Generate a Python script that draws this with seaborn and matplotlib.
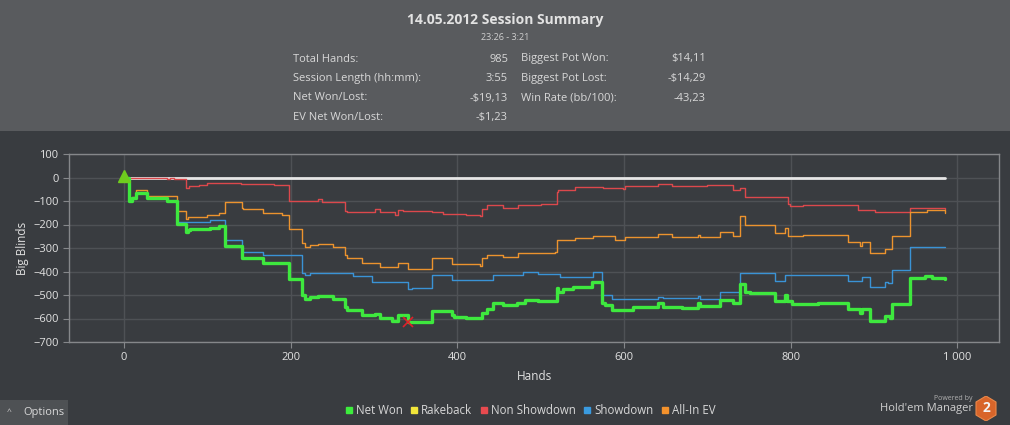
import matplotlib
matplotlib.use("Agg")
import matplotlib.pyplot as plt
import matplotlib.ticker as mticker
from matplotlib.lines import Line2D
from matplotlib.patches import Rectangle, Polygon
import seaborn as sns

# --- data (hands / big blinds) ---
net_won_hands = [0, 6, 9, 14, 27, 51, 63, 74, 77, 79, 103, 114, 121, 141, 167, 198, 213, 217, 223, 233,
                 251, 265, 268, 285, 301, 307, 321, 329, 341, 369, 393, 396, 410, 429, 436, 443, 455, 471,
                 481, 497, 519, 521, 527, 539, 561, 573, 577, 585, 611, 641, 647, 670, 689, 691, 715, 731,
                 739, 745, 751, 781, 793, 795, 801, 833, 869, 883, 886, 895, 913, 919, 922, 943, 961, 970, 985]
net_won_bb = [0, -100, -89, -68, -86, -98, -198, -233, -225, -221, -216, -206, -291, -342, -362, -430, -500,
              -518, -510, -503, -518, -552, -563, -585, -580, -599, -609, -585, -615, -567, -585, -592, -597,
              -575, -558, -533, -543, -536, -521, -526, -472, -486, -476, -465, -443, -536, -543, -563, -550,
              -536, -550, -555, -536, -547, -521, -536, -453, -486, -490, -526, -500, -526, -538, -533, -560,
              -575, -560, -611, -588, -599, -540, -426, -419, -426, -430]

non_sd_hands = [0, 20, 51, 55, 60, 74, 78, 90, 100, 140, 180, 198, 233, 238, 265, 268, 301, 307, 325, 329,
                335, 370, 383, 410, 427, 429, 436, 455, 473, 500, 519, 521, 541, 575, 599, 601, 641, 657,
                699, 731, 739, 745, 797, 799, 815, 881, 901, 943, 963, 985]
non_sd_bb = [0, -3, -8, -4, -6, -43, -36, -30, -25, -27, -32, -99, -93, -104, -143, -148, -135, -148, -161,
             -138, -143, -148, -155, -160, -163, -136, -117, -131, -117, -112, -60, -53, -42, -45, -48, -37,
             -28, -37, -33, -53, -46, -84, -114, -123, -117, -138, -145, -131, -128, -135]

sd_hands = [0, 6, 9, 14, 27, 51, 63, 103, 121, 141, 167, 213, 217, 223, 275, 297, 341, 345, 369, 393, 443,
            479, 497, 523, 563, 573, 585, 641, 647, 689, 691, 715, 739, 781, 793, 869, 886, 895, 913, 917,
            922, 943, 985]
sd_bb = [0, -100, -89, -68, -86, -98, -188, -181, -266, -318, -330, -405, -415, -408, -420, -446, -474, -469,
         -415, -436, -415, -401, -411, -425, -401, -500, -517, -510, -514, -505, -518, -486, -408, -441, -414,
         -440, -423, -465, -443, -450, -394, -294, -294]

allin_ev_hands = [0, 6, 9, 14, 27, 63, 74, 77, 100, 114, 121, 141, 143, 167, 190, 198, 213, 217, 223, 233,
                  251, 265, 268, 285, 307, 329, 341, 369, 393, 427, 429, 436, 455, 473, 517, 519, 541, 563,
                  589, 601, 641, 657, 689, 691, 715, 731, 739, 745, 781, 793, 797, 815, 869, 883, 886, 895,
                  913, 922, 943, 963, 985]
allin_ev_bb = [0, -95, -84, -53, -77, -141, -177, -167, -160, -150, -103, -128, -133, -150, -160, -221, -280,
               -297, -287, -282, -295, -330, -344, -362, -382, -362, -390, -344, -366, -375, -344, -330, -340,
               -320, -315, -266, -258, -248, -266, -255, -241, -255, -245, -254, -234, -251, -164, -202, -238,
               -215, -248, -244, -273, -291, -273, -323, -303, -251, -145, -140, -150]

rakeback_hands = [0, 985]
rakeback_bb = [0, 0]

legend_names = ["Net Won", "Rakeback", "Non Showdown", "Showdown", "All-In EV"]
legend_colors = ["#3ded3d", "#f2e63a", "#e84a4f", "#3a9be0", "#f4922c"]

header_rows = [("Total Hands:", "985", "Biggest Pot Won:", "$14,11"),
               ("Session Length (hh:mm):", "3:55", "Biggest Pot Lost:", "-$14,29"),
               ("Net Won/Lost:", "-$19,13", "Win Rate (bb/100):", "-43,23"),
               ("EV Net Won/Lost:", "-$1,23", "", "")]

bg = "#393c40"
header_bg = "#595b5e"
grid_c = "#4e5155"
text_c = "#e2e2e2"

sns.set_style("dark", {"axes.facecolor": bg, "figure.facecolor": bg, "axes.edgecolor": "#85878a",
                       "grid.color": grid_c, "axes.grid": True})
plt.rcParams["font.family"] = ["Open Sans", "DejaVu Sans"]

fig = plt.figure(figsize=(10.1, 4.25), dpi=100)
ax = fig.add_axes([69 / 1010, 1 - 342 / 425, 930 / 1010, 188 / 425])

# header band
fig.patches.append(Rectangle((0, 1 - 131 / 425), 1, 131 / 425, transform=fig.transFigure,
                             facecolor=header_bg, edgecolor="none", zorder=0))
fig.text(505 / 1010, 1 - 20 / 425, "14.05.2012 Session Summary", ha="center", va="center",
         fontsize=10, fontweight="bold", color=text_c)
fig.text(505 / 1010, 1 - 37 / 425, "23:26 - 3:21", ha="center", va="center", fontsize=6.5, color="#d0d0d0")
for i, (l1, v1, l2, v2) in enumerate(header_rows):
    yy = 1 - (59 + i * 19.5) / 425
    fig.text(293 / 1010, yy, l1, ha="left", va="center", fontsize=8, color="#d8d8d8")
    fig.text(508 / 1010, yy, v1, ha="right", va="center", fontsize=8, color="#d8d8d8")
    fig.text(521 / 1010, yy, l2, ha="left", va="center", fontsize=8, color="#d8d8d8")
    fig.text(706 / 1010, yy, v2, ha="right", va="center", fontsize=8, color="#d8d8d8")

# lines
sns.lineplot(x=rakeback_hands, y=rakeback_bb, color="#e6e6e6", linewidth=2, ax=ax, zorder=3)
sns.lineplot(x=non_sd_hands, y=non_sd_bb, color="#dc484c", linewidth=1, drawstyle="steps-post", ax=ax, zorder=4)
sns.lineplot(x=allin_ev_hands, y=allin_ev_bb, color="#ec932e", linewidth=1, drawstyle="steps-post", ax=ax, zorder=4)
sns.lineplot(x=sd_hands, y=sd_bb, color="#3a93d6", linewidth=1, drawstyle="steps-post", ax=ax, zorder=4)
sns.lineplot(x=net_won_hands, y=net_won_bb, color="#3ee83e", linewidth=2.4, drawstyle="steps-post", ax=ax, zorder=5)
ax.plot(net_won_hands[0], net_won_bb[0] + 8, marker="^", color="#6fcc1e", markersize=9, zorder=6)
low = net_won_bb.index(min(net_won_bb))
ax.plot(net_won_hands[low], net_won_bb[low], marker="x", color="#e0202a", markersize=7, mew=1.2, zorder=6)

ax.set_xlim(-66, 1050)
ax.set_ylim(-700, 100)
ax.yaxis.set_major_locator(mticker.MultipleLocator(100))
ax.xaxis.set_major_locator(mticker.MultipleLocator(200))
ax.xaxis.set_major_formatter(mticker.FuncFormatter(lambda v, _: f"{int(v):,}".replace(",", " ")))
ax.tick_params(colors="#85878a", labelcolor=text_c, labelsize=8, length=4, width=0.8,
               bottom=True, left=True)
ax.grid(True, color=grid_c, linewidth=1)
for s in ax.spines.values():
    s.set_color("#85878a")
    s.set_linewidth(1)
ax.set_xlabel("Hands", color=text_c, fontsize=8.5, labelpad=5)
ax.set_ylabel("Big Blinds", color=text_c, fontsize=8.5, labelpad=3)

# legend
handles = [Line2D([], [], marker="s", linestyle="none", color=c, markersize=5) for c in legend_colors]
fig.legend(handles, legend_names, loc="center", bbox_to_anchor=(530 / 1010, 1 - 411 / 425), ncol=5,
           frameon=False, fontsize=8.3, labelcolor="#d8d8d8", handletextpad=0.2, columnspacing=0.6,
           handlelength=0.8)

# options button
fig.patches.append(Rectangle((0, 0), 68 / 1010, 25 / 425, transform=fig.transFigure,
                             facecolor="#4e5154", edgecolor="none", zorder=0))
fig.text(9 / 1010, 1 - 413 / 425, "^", ha="center", va="center", fontsize=6, color="#cfcfcf")
fig.text(23 / 1010, 1 - 413 / 425, "Options", ha="left", va="center", fontsize=8, color="#d8d8d8")

# branding
fig.text(973 / 1010, 1 - 398 / 425, "Powered by", ha="right", va="center", fontsize=5, color="#b0b0b0")
fig.text(973 / 1010, 1 - 409 / 425, "Hold'em Manager", ha="right", va="center", fontsize=8, color="#cfcfcf")
logo = fig.add_axes([975 / 1010, 1 - 421 / 425, 22 / 1010, 25 / 425])
logo.set_axis_off()
logo.set_xlim(0, 22)
logo.set_ylim(0, 25)
logo.add_patch(Polygon([(11, 25), (21, 19), (21, 6), (11, 0), (1, 6), (1, 19)], closed=True,
                       facecolor="#d8652a", edgecolor="#e9884a", linewidth=0.8))
logo.text(11, 12.5, "2", ha="center", va="center", fontsize=10, fontweight="bold", color="#f4f4f4")

fig.savefig("out.png", dpi=100, facecolor=bg)
